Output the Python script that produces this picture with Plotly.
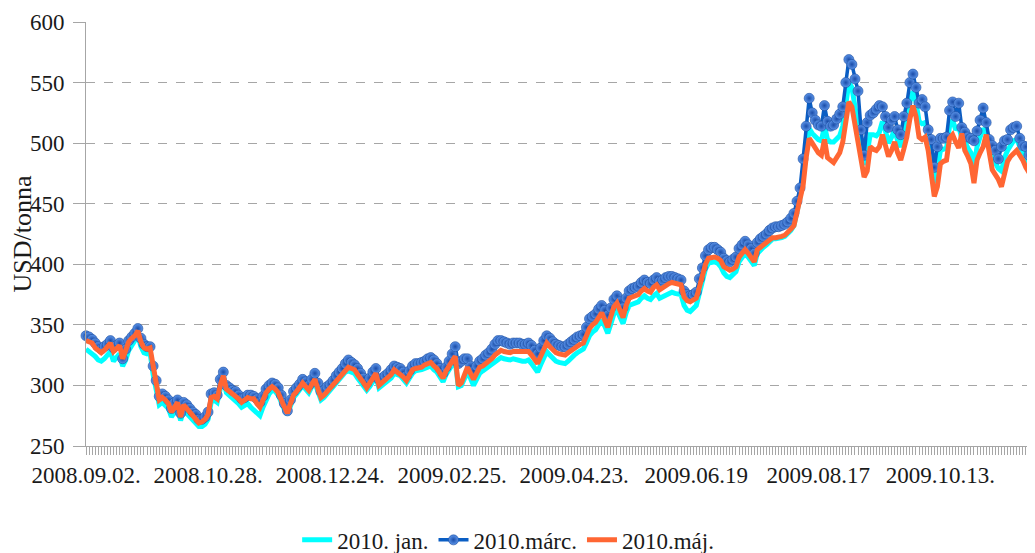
import plotly.graph_objects as go

tick_positions = [0, 40, 80, 120, 160, 200, 240, 280]
tick_labels = ["2008.09.02.", "2008.10.28.", "2008.12.24.", "2009.02.25.",
               "2009.04.23.", "2009.06.19", "2009.08.17", "2009.10.13."]
y_ticks = [250, 300, 350, 400, 450, 500, 550, 600]

jan_2010 = [
    330, 328, 327, 324, 321, 320, 322, 325, 328, 320, 323, 326, 316, 321, 329, 333, 336, 341, 332, 327,
    326, 327, 309, 298, 284, 286, 284, 281, 274, 279, 282, 271, 280, 277, 274, 271, 269, 266, 266, 268,
    272, 286, 288, 286, 297, 305, 294, 292, 290, 288, 285, 282, 283, 285, 282, 280, 277, 275, 282, 289,
    293, 296, 295, 292, 285, 280, 276, 283, 290, 293, 296, 300, 297, 294, 299, 302, 295, 288, 290, 293,
    295, 298, 302, 305, 308, 311, 312, 311, 310, 306, 303, 299, 296, 299, 304, 307, 298, 300, 302, 304,
    306, 310, 309, 308, 305, 302, 306, 310, 312, 312, 313, 314, 315, 316, 313, 311, 307, 303, 309, 314,
    317, 320, 299, 300, 305, 311, 306, 300, 305, 310, 312, 314, 315, 317, 320, 322, 323, 322, 321, 321,
    322, 321, 321, 320, 320, 321, 318, 314, 311, 317, 323, 328, 325, 322, 320, 319, 318, 318, 320, 323,
    325, 327, 328, 330, 335, 341, 344, 346, 350, 354, 349, 343, 351, 359, 362, 357, 351, 360, 366, 367,
    368, 369, 372, 374, 372, 371, 374, 376, 372, 373, 375, 376, 377, 376, 376, 375, 366, 362, 361, 363,
    366, 376, 386, 396, 401, 402, 402, 401, 398, 393, 390, 389, 391, 394, 402, 406, 409, 406, 403, 399,
    409, 412, 414, 416, 419, 421, 421, 421, 422, 423, 425, 428, 432, 443, 455, 472, 496, 512, 508, 505,
    503, 502, 514, 503, 501, 501, 503, 506, 514, 533, 550, 546, 530, 516, 496, 482, 492, 507, 507, 506,
    509, 518, 510, 500, 505, 511, 502, 497, 507, 518, 534, 543, 534, 518, 516, 517, 503, 490, 467, 478,
    494, 495, 496, 514, 519, 511, 514, 504, 501, 496, 492, 481, 497, 505, 512, 509, 497, 488, 484, 479,
    477, 488, 494, 498, 502, 503, 497, 492, 487, 482, 485,
]

marc_2010 = [
    341, 340, 338, 335, 332, 330, 332, 334, 337, 331, 333, 335, 322, 330, 337, 340, 343, 347, 339, 334,
    332, 332, 316, 304, 291, 293, 291, 288, 281, 286, 288, 277, 286, 284, 281, 278, 276, 272, 272, 274,
    278, 293, 294, 292, 305, 311, 300, 298, 296, 295, 292, 289, 290, 292, 292, 291, 289, 286, 291, 297,
    300, 302, 301, 298, 292, 285, 279, 288, 295, 298, 301, 305, 303, 300, 305, 310, 302, 295, 296, 299,
    301, 304, 308, 311, 314, 318, 321, 319, 317, 314, 310, 306, 302, 306, 311, 314, 305, 306, 308, 310,
    313, 316, 315, 314, 311, 308, 312, 316, 318, 318, 319, 320, 322, 323, 321, 318, 314, 310, 315, 320,
    326, 332, 318, 320, 322, 322, 316, 312, 316, 320, 322, 325, 327, 330, 334, 337, 337, 336, 335, 334,
    335, 335, 335, 334, 334, 335, 333, 329, 326, 331, 337, 341, 339, 336, 334, 333, 332, 332, 334, 336,
    338, 340, 341, 342, 348, 355, 357, 359, 363, 366, 362, 358, 364, 371, 374, 369, 364, 372, 378, 380,
    381, 382, 385, 387, 385, 384, 387, 389, 386, 387, 389, 390, 390, 389, 388, 387, 378, 375, 374, 375,
    377, 388, 397, 407, 412, 414, 414, 412, 410, 405, 403, 402, 404, 406, 413, 416, 419, 416, 413, 409,
    418, 421, 423, 425, 428, 430, 431, 431, 432, 433, 435, 438, 442, 452, 463, 487, 514, 537, 525, 519,
    515, 514, 531, 518, 514, 515, 520, 524, 530, 550, 569, 565, 553, 543, 511, 490, 517, 523, 525, 528,
    531, 530, 522, 513, 519, 522, 511, 507, 522, 533, 550, 557, 546, 533, 536, 530, 511, 503, 480, 497,
    504, 504, 505, 527, 534, 522, 533, 513, 509, 505, 504, 502, 510, 519, 529, 517, 503, 498, 494, 487,
    497, 502, 503, 511, 513, 514, 504, 498, 497, 490, 500,
]

maj_2010 = [
    337, 336, 335, 331, 329, 327, 329, 332, 335, 328, 330, 333, 322, 328, 336, 339, 341, 345, 336, 331,
    330, 331, 313, 302, 288, 290, 288, 285, 278, 283, 286, 274, 284, 281, 278, 275, 273, 269, 270, 272,
    276, 290, 291, 289, 300, 308, 297, 295, 293, 292, 289, 286, 288, 290, 289, 289, 285, 282, 288, 294,
    297, 299, 297, 294, 288, 282, 277, 285, 292, 295, 298, 302, 299, 296, 301, 305, 297, 290, 292, 295,
    297, 300, 304, 307, 310, 313, 315, 314, 313, 309, 306, 302, 298, 302, 307, 310, 300, 302, 304, 306,
    309, 313, 311, 310, 307, 304, 309, 313, 314, 314, 315, 317, 318, 319, 316, 314, 310, 306, 312, 317,
    320, 324, 300, 302, 309, 315, 310, 305, 310, 315, 316, 318, 319, 322, 325, 327, 329, 328, 327, 327,
    328, 328, 328, 327, 327, 328, 325, 321, 318, 324, 330, 335, 332, 329, 327, 326, 325, 325, 327, 329,
    331, 333, 334, 335, 341, 347, 350, 352, 356, 360, 354, 348, 357, 365, 368, 362, 356, 366, 372, 373,
    374, 375, 378, 380, 378, 377, 381, 383, 379, 381, 383, 384, 385, 384, 384, 383, 373, 370, 369, 370,
    372, 381, 390, 400, 405, 406, 406, 405, 403, 398, 396, 395, 396, 398, 406, 409, 412, 409, 406, 402,
    412, 414, 416, 418, 420, 422, 422, 422, 423, 424, 426, 429, 432, 442, 452, 465, 488, 504, 500, 495,
    492, 490, 503, 488, 486, 484, 488, 492, 501, 519, 534, 530, 515, 500, 483, 472, 477, 497, 495, 494,
    497, 507, 498, 489, 494, 501, 492, 486, 495, 505, 520, 531, 522, 505, 503, 505, 494, 478, 456, 464,
    483, 485, 486, 504, 507, 501, 496, 508, 494, 489, 483, 467, 486, 492, 497, 507, 494, 478, 474, 470,
    464, 475, 485, 489, 492, 494, 490, 486, 480, 476, 472,
]

x_idx = list(range(len(marc_2010)))

FONT = "'Liberation Serif', 'Times New Roman', serif"
GRID = "#A6A6A6"
TXT = "#1a1a1a"

fig = go.Figure()
fig.add_trace(go.Scatter(
    x=x_idx, y=jan_2010, name="2010. jan.", mode="lines",
    line=dict(color="#00FFFF", width=5), cliponaxis=False,
))
fig.add_trace(go.Scatter(
    x=x_idx, y=marc_2010, name="2010.márc.", mode="lines+markers",
    line=dict(color="#0A5EC4", width=3.5),
    marker=dict(size=10, color="#5C95EA",
                gradient=dict(type="radial", color="#1A4CA8"),
                line=dict(color="#1A4A9C", width=0.6)),
    cliponaxis=False,
))
fig.add_trace(go.Scatter(
    x=x_idx, y=maj_2010, name="2010.máj.", mode="lines",
    line=dict(color="#FF6633", width=5), cliponaxis=False,
))

# page body has an 8px default margin: figure is sized/offset to compensate
fig.update_layout(
    width=1027, height=545,
    margin=dict(l=78, r=0, t=14, b=107),
    paper_bgcolor="white", plot_bgcolor="white",
    font=dict(family=FONT, size=23, color=TXT),
    showlegend=True,
    legend=dict(
        orientation="h", xref="container", yref="container",
        x=0.487, xanchor="center", y=0.024, yanchor="middle",
        font=dict(family=FONT, size=23, color=TXT),
        itemwidth=30, tracegroupgap=0,
    ),
)

fig.update_xaxes(
    range=[0, 311], tickmode="array", tickvals=tick_positions, ticktext=tick_labels,
    showgrid=False, zeroline=False, showline=True, linecolor=GRID, linewidth=1,
    ticks="outside", ticklen=8, tickcolor=GRID, tickwidth=1,
    tickfont=dict(family=FONT, size=23, color=TXT),
    minor=dict(dtick=1, tick0=0, ticks="outside", ticklen=8, tickcolor=GRID, tickwidth=1, showgrid=False),
)
fig.update_yaxes(
    range=[250, 600], tickmode="array", tickvals=y_ticks,
    showgrid=True, gridcolor=GRID, griddash="dash", gridwidth=1,
    zeroline=False, showline=True, linecolor=GRID, linewidth=1,
    ticks="outside", ticklen=12, tickcolor=GRID, tickwidth=1, ticklabelstandoff=4,
    tickfont=dict(family=FONT, size=23, color=TXT),
    title=dict(text="USD/tonna", font=dict(family=FONT, size=26, color=TXT), standoff=2),
)

fig.write_html("out.html")
